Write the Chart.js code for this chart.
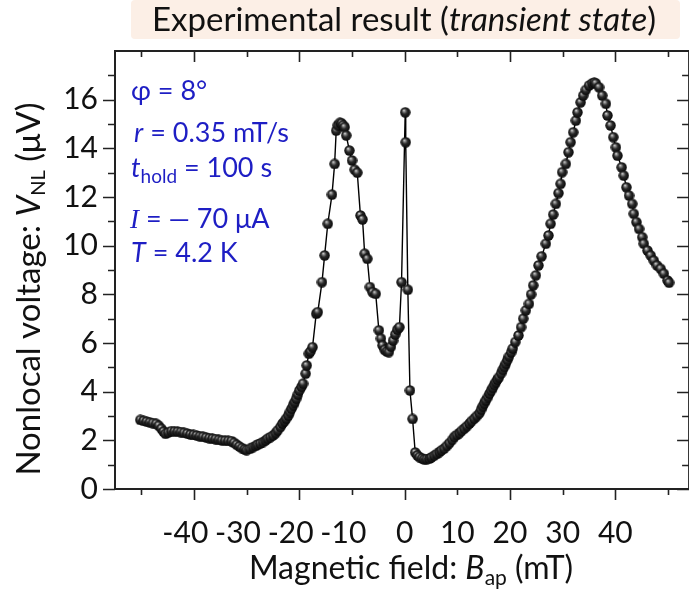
<!DOCTYPE html>
<html>
<head>
<meta charset="utf-8">
<script src="https://cdn.jsdelivr.net/npm/chart.js@4.4.1/dist/chart.umd.min.js"></script>
<style>
  html, body { margin: 0; padding: 0; background: #fff; overflow: hidden; width: 689px; height: 596px; }
  #wrap { width: 696px; height: 596px; }
</style>
</head>
<body>
<div id="wrap"><canvas id="grafica" width="696" height="596"></canvas></div>
<script>
// Campo magnetico (mT) y voltaje no local (uV)
const fieldMT = [
  -50.2, -49.6, -49.0, -48.4, -47.8, -47.2, -46.7, -46.2, -45.8, -45.4,
  -44.9, -44.3, -43.7, -43.1, -42.5, -41.9, -41.3, -40.7, -40.1, -39.5,
  -38.9, -38.3, -37.7, -37.1, -36.5, -35.9, -35.3, -34.7, -34.1, -33.5,
  -32.9, -32.4, -31.9, -31.4, -30.9, -30.4, -30.0, -29.4, -28.8, -28.3,
  -27.9, -27.4, -26.9, -26.4, -26.0, -25.5, -25.0, -24.5, -24.1, -23.6,
  -23.2, -22.8, -22.5, -22.1, -21.8, -21.5, -21.2, -20.9, -20.6, -20.3,
  -20.0, -19.6, -19.3, -18.8, -18.6, -18.2, -17.9, -17.5, -16.8, -16.5,
  -15.7, -15.2, -14.6, -13.8, -13.3, -13.0, -12.7, -12.3, -12.0, -11.7,
  -11.4, -11.1, -10.5, -10.0, -9.5, -9.0, -8.4, -8.0, -7.6, -7.1,
  -6.6, -6.1, -5.5, -4.9, -4.5, -4.2, -3.8, -3.4, -3.0, -2.6,
  -2.2, -1.8, -1.4, -1.0, -0.6, 0.1, 0.2, 0.6, 1.0, 1.5,
  2.0, 2.4, 2.8, 3.3, 3.7, 4.2, 4.7, 5.1, 5.6, 6.1,
  6.6, 7.0, 7.5, 8.0, 8.5, 9.0, 9.4, 9.9, 10.4, 10.8,
  11.3, 11.8, 12.3, 12.7, 13.2, 13.7, 14.2, 14.5, 14.8, 15.1,
  15.4, 15.8, 16.1, 16.4, 16.7, 17.0, 17.3, 17.6, 17.9, 18.3,
  18.6, 18.9, 19.2, 19.5, 19.8, 20.2, 20.5, 21.0, 21.6, 22.1,
  22.5, 23.0, 23.6, 24.0, 24.4, 24.9, 25.4, 26.0, 26.8, 27.3,
  27.7, 28.2, 28.7, 29.2, 29.6, 29.9, 30.6, 31.1, 31.5, 32.0,
  32.5, 32.8, 33.4, 33.9, 34.4, 35.0, 35.6, 36.0, 36.3, 36.9,
  37.5, 38.2, 38.5, 39.1, 39.6, 40.1, 40.4, 41.2, 41.6, 42.1,
  42.6, 43.2, 43.5, 44.0, 44.5, 45.1, 45.4, 46.1, 46.7, 47.3,
  47.9, 48.6, 49.2, 49.9, 50.2
];
const voltageUV = [
  2.84, 2.80, 2.77, 2.74, 2.71, 2.68, 2.60, 2.48, 2.36, 2.27,
  2.32, 2.38, 2.37, 2.36, 2.34, 2.31, 2.28, 2.24, 2.22, 2.20,
  2.17, 2.15, 2.12, 2.09, 2.07, 2.05, 2.02, 2.00, 1.99, 1.98,
  1.97, 1.90, 1.82, 1.75, 1.68, 1.63, 1.60, 1.65, 1.72, 1.77,
  1.82, 1.87, 1.93, 2.00, 2.07, 2.13, 2.20, 2.30, 2.41, 2.55,
  2.69, 2.79, 2.89, 3.02, 3.16, 3.30, 3.44, 3.57, 3.71, 3.88,
  4.05, 4.20, 4.33, 4.74, 5.08, 5.56, 5.65, 5.83, 7.20, 7.27,
  8.50, 9.60, 10.90, 12.10, 13.36, 14.73, 14.95, 15.05, 15.03, 14.95,
  14.87, 14.53, 13.91, 13.50, 13.12, 13.00, 11.24, 11.08, 9.67, 9.46,
  8.30, 8.09, 8.02, 6.52, 6.18, 5.90, 5.72, 5.65, 5.63, 5.85,
  6.10, 6.35, 6.55, 6.65, 8.50, 15.48, 14.25, 8.19, 4.05, 2.88,
  1.50, 1.38, 1.31, 1.26, 1.22, 1.23, 1.25, 1.30, 1.37, 1.44,
  1.52, 1.59, 1.66, 1.77, 1.89, 2.02, 2.14, 2.22, 2.30, 2.39,
  2.48, 2.58, 2.69, 2.79, 2.89, 3.00, 3.12, 3.26, 3.40, 3.52,
  3.64, 3.78, 3.92, 4.04, 4.16, 4.28, 4.39, 4.50, 4.60, 4.75,
  4.90, 5.02, 5.15, 5.30, 5.45, 5.61, 5.77, 6.04, 6.31, 6.65,
  7.00, 7.34, 7.61, 8.00, 8.37, 8.78, 9.19, 9.56, 10.08, 10.42,
  10.90, 11.28, 11.72, 12.16, 12.54, 13.02, 13.36, 13.84, 14.25, 14.66,
  15.14, 15.48, 15.89, 16.17, 16.40, 16.58, 16.67, 16.70, 16.67, 16.51,
  16.17, 15.83, 15.35, 14.94, 14.46, 14.04, 13.70, 13.22, 12.88, 12.40,
  12.06, 11.72, 11.31, 10.97, 10.69, 10.35, 10.08, 9.80, 9.60, 9.39,
  9.19, 9.05, 8.85, 8.57, 8.48
];

// Marcas de los ejes
const xEtiquetas = [-40, -30, -20, -10, 0, 10, 20, 30, 40];
const xMarcas = [-50, -40, -30, -20, -10, 0, 10, 20, 30, 40, 50];
const yEtiquetas = [0, 2, 4, 6, 8, 10, 12, 14, 16];
const yMarcas = [0, 1, 2, 3, 4, 5, 6, 7, 8, 9, 10, 11, 12, 13, 14, 15, 16, 17];

const FUENTE = 'Lato, "Noto Sans", sans-serif';
const AZUL = '#1e1ec4';

// bolita negra con brillo, como en la figura original
function crearBolita(d) {
    const c = document.createElement('canvas');
    c.width = d; c.height = d;
    const g = c.getContext('2d');
    const r = d / 2;
    const grad = g.createRadialGradient(r * 0.72, r * 0.62, 0, r, r, r);
    grad.addColorStop(0, '#f0f0f0');
    grad.addColorStop(0.2, '#8c8c8c');
    grad.addColorStop(0.5, '#2a2a2a');
    grad.addColorStop(1, '#050505');
    g.fillStyle = grad;
    g.beginPath();
    g.arc(r, r, r - 0.3, 0, Math.PI * 2);
    g.fill();
    return c;
}

// dibuja texto con partes en cursiva / subindice
function textoMixto(ctx, partes, x, y, alinear) {
    let ancho = 0;
    partes.forEach(p => { ctx.font = p.f; ancho += ctx.measureText(p.t).width; });
    let cx = x;
    if (alinear === 'center') cx = x - ancho / 2;
    ctx.textAlign = 'left';
    ctx.textBaseline = 'alphabetic';
    partes.forEach(p => {
        ctx.font = p.f;
        ctx.fillText(p.t, cx, y + (p.dy || 0));
        cx += ctx.measureText(p.t).width;
    });
}

const decoracion = {
    id: 'decoracion',
    beforeDraw(chart) {
        const ctx = chart.ctx;
        ctx.save();
        ctx.fillStyle = '#ffffff';
        ctx.fillRect(0, 0, chart.width, chart.height);
        // recuadro del titulo
        ctx.fillStyle = '#fcefe6';
        ctx.beginPath();
        ctx.roundRect(131, 0, 549, 39, 4);
        ctx.fill();
        ctx.restore();
    },
    afterDraw(chart) {
        const ctx = chart.ctx;
        const a = chart.chartArea;
        const sx = chart.scales.x, sy = chart.scales.y;
        ctx.save();
        ctx.strokeStyle = '#222';
        ctx.lineWidth = 2;
        ctx.strokeRect(a.left, a.top, a.right - a.left, a.bottom - a.top);

        ctx.lineWidth = 1.6;
        ctx.beginPath();
        xMarcas.forEach(v => {
            const px = Math.round(sx.getPixelForValue(v)) + 0.5;
            const largo = (v % 20 === 0) ? 11 : 6;
            ctx.moveTo(px, a.bottom); ctx.lineTo(px, a.bottom + largo);
            ctx.moveTo(px, a.top); ctx.lineTo(px, a.top + largo);
        });
        yMarcas.forEach(v => {
            const py = Math.round(sy.getPixelForValue(v)) + 0.5;
            const largo = (v % 2 === 0) ? 12 : 7;
            ctx.moveTo(a.left, py); ctx.lineTo(a.left - largo, py);
            ctx.moveTo(a.right, py); ctx.lineTo(a.right - largo, py);
        });
        ctx.stroke();

        // titulo
        ctx.fillStyle = '#111';
        textoMixto(ctx, [
            { t: 'Experimental result (', f: '33px ' + FUENTE },
            { t: 'transient state', f: 'italic 33px ' + FUENTE },
            { t: ')', f: '33px ' + FUENTE }
        ], 404, 31, 'center');

        // titulo eje x
        textoMixto(ctx, [
            { t: 'Magnetic field: ', f: '32px ' + FUENTE },
            { t: 'B', f: 'italic 32px ' + FUENTE },
            { t: 'ap', f: '21px ' + FUENTE, dy: 6 },
            { t: ' (mT)', f: '32px ' + FUENTE }
        ], 411, 579, 'center');

        // titulo eje y
        ctx.save();
        ctx.translate(40, 289);
        ctx.rotate(-Math.PI / 2);
        textoMixto(ctx, [
            { t: 'Nonlocal voltage: ', f: '33px ' + FUENTE },
            { t: 'V', f: 'italic 33px ' + FUENTE },
            { t: 'NL', f: '20px ' + FUENTE, dy: 5 },
            { t: ' (μV)', f: '33px ' + FUENTE }
        ], 0, 0, 'center');
        ctx.restore();

        // condiciones de la medicion
        ctx.fillStyle = AZUL;
        const f = '27px ' + FUENTE, fi = 'italic 27px ' + FUENTE;
        textoMixto(ctx, [{ t: 'φ = 8°', f: f }], 131, 100);
        textoMixto(ctx, [{ t: 'r', f: fi }, { t: ' = 0.35 mT/s', f: f }], 134, 142);
        textoMixto(ctx, [{ t: 't', f: fi }, { t: 'hold', f: '19px ' + FUENTE, dy: 6 }, { t: ' = 100 s', f: f }], 131, 177);
        textoMixto(ctx, [{ t: 'I', f: 'italic 27px "Liberation Serif", serif' }, { t: ' = — 70 μA', f: f }], 130, 228);
        textoMixto(ctx, [{ t: 'T', f: fi }, { t: ' = 4.2 K', f: f }], 131, 262);
        ctx.restore();
    }
};

const puntos = fieldMT.map((b, i) => ({ x: b, y: voltageUV[i] }));
const bolita = crearBolita(11);

const ctx = document.getElementById('grafica').getContext('2d');
new Chart(ctx, {
    type: 'scatter',
    data: {
        datasets: [{
            label: 'VNL',
            data: puntos,
            showLine: true,
            borderColor: '#000',
            borderWidth: 1.4,
            pointStyle: bolita,
            pointRadius: 5.5,
            pointHoverRadius: 5.5
        }]
    },
    options: {
        responsive: false,
        animation: false,
        events: [],
        layout: { padding: { top: 51, right: 6, left: 0, bottom: 0 } },
        plugins: {
            legend: { display: false },
            tooltip: { enabled: false }
        },
        scales: {
            x: {
                type: 'linear',
                min: -55,
                max: 54,
                afterBuildTicks: s => { s.ticks = xEtiquetas.map(v => ({ value: v })); },
                afterFit: s => { s.height = 107; },
                grid: { display: false, drawTicks: false },
                border: { display: false },
                ticks: {
                    color: '#111',
                    font: { family: FUENTE, size: 30 },
                    padding: 26,
                    maxRotation: 0,
                    autoSkip: false,
                    // el signo menos queda a la izquierda de la marca, como en la figura
                    callback: v => v < 0 ? v + '\u2007' : String(v)
                }
            },
            y: {
                min: 0,
                max: 18,
                afterBuildTicks: s => { s.ticks = yEtiquetas.map(v => ({ value: v })); },
                afterFit: s => { s.width = 115; },
                grid: { display: false, drawTicks: false },
                border: { display: false },
                ticks: { color: '#111', font: { family: FUENTE, size: 30 }, padding: 17, autoSkip: false }
            }
        }
    },
    plugins: [decoracion]
});
</script>
</body>
</html>
